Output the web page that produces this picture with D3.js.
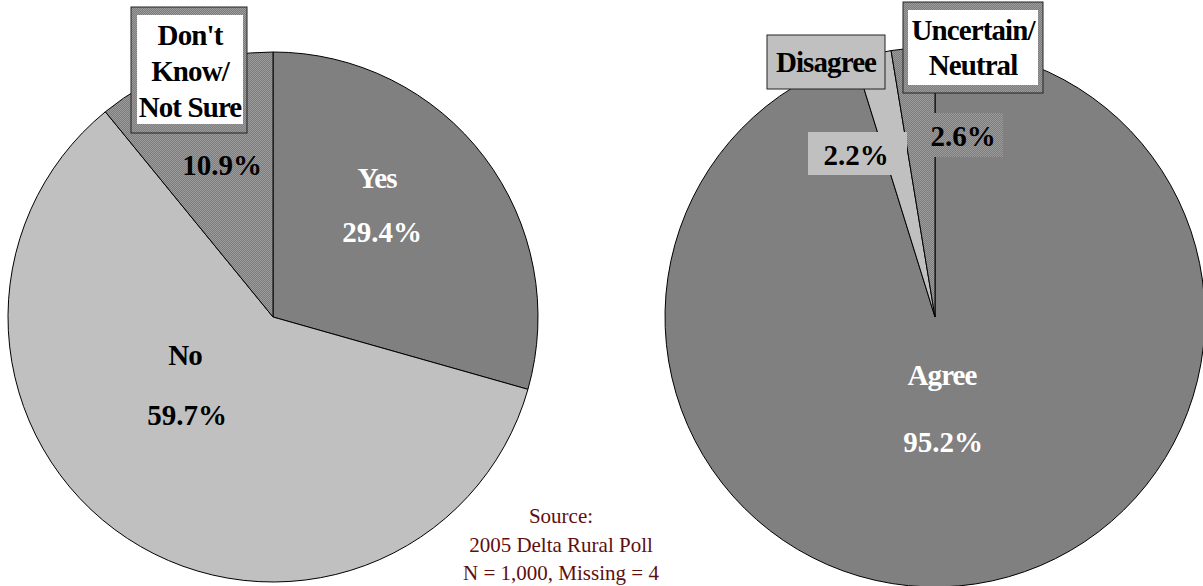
<!DOCTYPE html>
<html>
<head>
<meta charset="utf-8">
<script src="https://cdn.jsdelivr.net/npm/d3@7"></script>
<style>
  body { margin: 0; background: #fff; }
  svg { display: block; }
  text { font-family: "Liberation Serif", "Times New Roman", "DejaVu Serif", serif; }
</style>
</head>
<body>
<svg id="chart"></svg>
<script>
// left pie: awareness question
const leftLabels = ["Yes", "No", "Don't\nKnow/\nNot Sure"];
const leftValues = [29.4, 59.7, 10.9];

// right pie: agreement question
const rightLabels = ["Agree", "Disagree", "Uncertain/\nNeutral"];
const rightValues = [95.2, 2.2, 2.6];

const sourceLines = ["Source:", "2005 Delta Rural Poll", "N = 1,000, Missing = 4"];

const width = 1203;
const height = 586;

const svg = d3.select("#chart").attr("width", width).attr("height", height);

// fine checker fill used for the "unsure" slices
const defs = svg.append("defs");
const pat = defs.append("pattern")
  .attr("id", "checker")
  .attr("width", 2)
  .attr("height", 2)
  .attr("patternUnits", "userSpaceOnUse");
pat.append("rect").attr("width", 2).attr("height", 2).attr("fill", "#7c7c7c");
pat.append("rect").attr("width", 1).attr("height", 1).attr("fill", "#9c9c9c");
pat.append("rect").attr("x", 1).attr("y", 1).attr("width", 1).attr("height", 1).attr("fill", "#9c9c9c");

const fills = ["#808080", "#c0c0c0", "url(#checker)"];
const fmt = (v) => `${v.toFixed(1)}%`;

// label layout per slice, offsets relative to the pie centre
function drawPie(cfg) {
  const g = svg.append("g").attr("transform", `translate(${cfg.cx},${cfg.cy})`);
  const pie = d3.pie().sort(null).value((d) => d.value);
  const arc = d3.arc().innerRadius(0).outerRadius(cfg.r);
  const data = cfg.values.map((v, i) => ({ label: cfg.labels[i], value: v }));

  g.selectAll("path.slice")
    .data(pie(data))
    .join("path")
    .attr("class", "slice")
    .attr("d", arc)
    .attr("fill", (d, i) => fills[i])
    .attr("stroke", "#000")
    .attr("stroke-width", 1);

  data.forEach((d, i) => {
    const L = cfg.layout[i];
    const lines = d.label.split("\n");

    if (L.box) {
      const [x0, y0, x1, y1] = L.box;
      g.append("rect")
        .attr("x", x0).attr("y", y0)
        .attr("width", x1 - x0).attr("height", y1 - y0)
        .attr("fill", fills[i])
        .attr("stroke", "#222")
        .attr("stroke-width", 1);
      if (L.inner) {
        const [a0, b0, a1, b1] = L.inner;
        g.append("rect")
          .attr("x", a0).attr("y", b0)
          .attr("width", a1 - a0).attr("height", b1 - b0)
          .attr("fill", "#fff");
      }
    }
    lines.forEach((line, k) => {
      g.append("text")
        .attr("x", L.name[0])
        .attr("y", L.name[1] + k * L.lineGap)
        .attr("text-anchor", "middle")
        .attr("font-size", 29)
        .attr("font-weight", "bold")
        .attr("letter-spacing", -0.9)
        .attr("fill", L.color)
        .text(line);
    });

    if (L.pctBox) {
      const [x0, y0, x1, y1] = L.pctBox;
      g.append("rect")
        .attr("x", x0).attr("y", y0)
        .attr("width", x1 - x0).attr("height", y1 - y0)
        .attr("fill", fills[i]);
    }
    g.append("text")
      .attr("x", L.pct[0])
      .attr("y", L.pct[1])
      .attr("text-anchor", "middle")
      .attr("font-size", 29)
      .attr("font-weight", "bold")
      .attr("fill", L.pctColor || L.color)
      .text(fmt(d.value));
  });
}

drawPie({
  cx: 273, cy: 317, r: 265,
  labels: leftLabels, values: leftValues,
  layout: [
    { name: [104, -129], pct: [109, -75], color: "#fff", lineGap: 0 },
    { name: [-88, 48], pct: [-86, 108], color: "#000", lineGap: 0 },
    { name: [-83, -272], lineGap: 36, pct: [-51, -142], color: "#000",
      box: [-142, -310, -26, -184], inner: [-136, -302, -30, -193] }
  ]
});

drawPie({
  cx: 935, cy: 317, r: 270,
  labels: rightLabels, values: rightValues,
  layout: [
    { name: [7, 68], pct: [8, 135], color: "#fff", lineGap: 0 },
    { name: [-109, -245], lineGap: 0, pct: [-79, -152], color: "#000",
      box: [-168, -282, -50, -228], pctBox: [-127, -185, -28, -142] },
    { name: [38, -277], lineGap: 35, pct: [28, -171], color: "#000",
      box: [-32, -315, 108, -224], inner: [-27, -307, 103, -232],
      pctBox: [-12, -204, 68, -160] }
  ]
});

// source note
svg.append("g")
  .selectAll("text")
  .data(sourceLines)
  .join("text")
  .attr("x", 561)
  .attr("y", (d, i) => 523 + i * 28.5)
  .attr("text-anchor", "middle")
  .attr("font-size", 21)
  .attr("fill", "#5e0f0f")
  .text((d) => d);
</script>
</body>
</html>
